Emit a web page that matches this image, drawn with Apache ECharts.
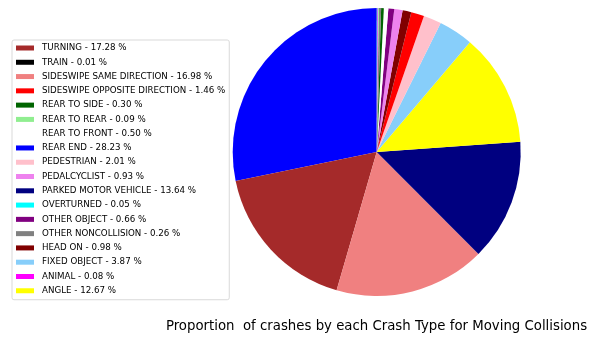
<!DOCTYPE html>
<html>
<head>
<meta charset="utf-8">
<script src="https://cdn.jsdelivr.net/npm/echarts@6/dist/echarts.min.js"></script>
<style>
  html, body { margin: 0; padding: 0; background: #fff; }
  #main { width: 596px; height: 353px; }
</style>
</head>
<body>
<div id="main"></div>
<script>
// legend order (as in the picture)
var crashTypes = ['TURNING', 'TRAIN', 'SIDESWIPE SAME DIRECTION', 'SIDESWIPE OPPOSITE DIRECTION',
  'REAR TO SIDE', 'REAR TO REAR', 'REAR TO FRONT', 'REAR END', 'PEDESTRIAN', 'PEDALCYCLIST',
  'PARKED MOTOR VEHICLE', 'OVERTURNED', 'OTHER OBJECT', 'OTHER NONCOLLISION', 'HEAD ON',
  'FIXED OBJECT', 'ANIMAL', 'ANGLE']
var percents = [17.28, 0.01, 16.98, 1.46, 0.30, 0.09, 0.50, 28.23, 2.01, 0.93,
  13.64, 0.05, 0.66, 0.26, 0.98, 3.87, 0.08, 12.67]
var colors = ['#a52a2a', '#000000', '#f08080', '#ff0000', '#006400', '#90ee90', '#ffffff', '#0000ff', '#ffc0cb', '#ee82ee',
  '#000080', '#00ffff', '#800080', '#808080', '#800000', '#87cefa', '#ff00ff', '#ffff00']

var myChart = echarts.init(document.getElementById('main'))

// slices drawn biggest first, like the original plot
var pieData = crashTypes.map(function (n, i) {
  return { name: n, value: percents[i], itemStyle: { color: colors[i] } }
})
pieData.sort(function (a, b) { return b.value - a.value })

var option = {
  animation: false,
  title: {
    text: 'Proportion  of crashes by each Crash Type for Moving Collisions',
    left: 371.5,
    textAlign: 'center',
    top: 315,
    textStyle: { fontFamily: 'DejaVu Sans', fontSize: 13.3, fontWeight: 'normal', color: '#000' }
  },
  legend: {
    data: crashTypes,
    orient: 'vertical',
    left: 12,
    top: 40,
    padding: [3, 4, 4, 4],
    itemGap: 4.28,
    itemWidth: 18,
    itemHeight: 5,
    icon: 'rect',
    selectedMode: false,
    backgroundColor: '#fff',
    borderColor: '#d9d9d9',
    borderWidth: 1,
    borderRadius: 2,
    formatter: function (name) {
      var i = crashTypes.indexOf(name)
      return name + ' - ' + percents[i].toFixed(2) + ' %'
    },
    textStyle: { fontFamily: 'DejaVu Sans', fontSize: 8.7, lineHeight: 10, color: '#000', padding: [0, 0, 0, 3] }
  },
  series: [{
    type: 'pie',
    center: [376.7, 152],
    radius: 144,
    startAngle: 90,
    clockwise: false,
    label: { show: false },
    labelLine: { show: false },
    emphasis: { disabled: true },
    itemStyle: { borderWidth: 0 },
    data: pieData
  }]
}

myChart.setOption(option)
</script>
</body>
</html>
